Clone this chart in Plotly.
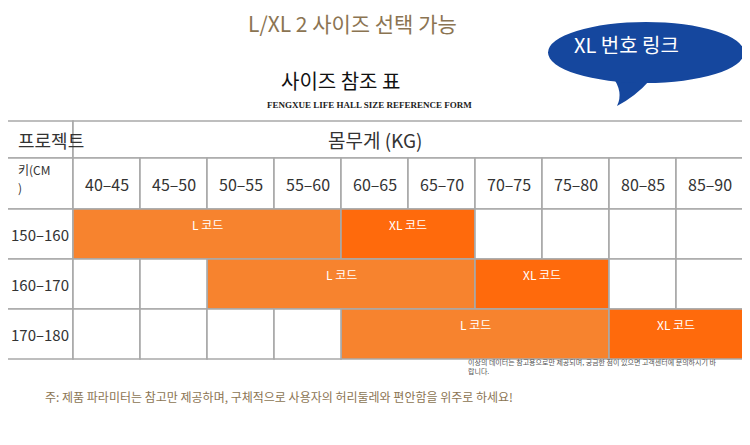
"""
Size reference chart (L / XL) recreated with plotly.
Whole picture is drawn on one invisible pixel-like axis.
"""

import plotly.graph_objects as go

# data
weights = ["40–45", "45–50", "50–55", "55–60", "60–65",
           "65–70", "70–75", "75–80", "80–85", "85–90"]
heights = ["150–160", "160–170", "170–180"]

# size spans per height row: (first weight col, last weight col, size)
size_spans = [
    [(0, 3, "L"), (4, 5, "XL")],
    [(2, 5, "L"), (6, 7, "XL")],
    [(4, 7, "L"), (8, 9, "XL")],
]

title = "L/XL 2 사이즈 선택 가능"
bubble_text = "XL 번호 링크"
table_title = "사이즈 참조 표"
table_subtitle = "FENGXUE LIFE HALL SIZE REFERENCE FORM"
note_small = "이상의 데이터는 참고용으로만 제공되며, 궁금한 점이 있으면 고객센터에 문의하시기 바<br>랍니다."
note_main = "주: 제품 파라미터는 참고만 제공하며, 구체적으로 사용자의 허리둘레와 편안함을 위주로 하세요!"

# geometry (page pixels; the plot div sits 8px in from the page corner)
W, H = 750, 445
OFF = 8
X0, LABEL_W, COL_W = 7, 66, 67.0
Y_TOP, HEAD1_H, HEAD2_H, ROW_H = 121, 37, 51, 50
GRID = "#a9a9a9"
L_COLOR = "#f7832e"
XL_COLOR = "#ff6a0c"
BROWN = "#8b7452"
FONT = "Noto Sans CJK KR"

def col_x(i):
    return X0 + LABEL_W + COL_W * i

x_right = col_x(len(weights))
y_head2 = Y_TOP + HEAD1_H
y_rows = y_head2 + HEAD2_H
y_bottom = y_rows + ROW_H * len(heights)

shapes = []
annotations = []

def rect(x0, y0, x1, y1, fill="white"):
    shapes.append(dict(type="rect", xref="x", yref="y", x0=x0, y0=y0, x1=x1, y1=y1,
                       fillcolor=fill, line=dict(color=GRID, width=1.6), layer="below"))

def text(x, y, s, size, color="#333", xanchor="center", yanchor="middle", family=FONT, **kw):
    annotations.append(dict(x=x, y=y, xref="x", yref="y", text=s, showarrow=False,
                            xanchor=xanchor, yanchor=yanchor,
                            font=dict(family=family, size=size, color=color), **kw))

# header rows
rect(X0, Y_TOP, X0 + LABEL_W, y_head2)
rect(X0 + LABEL_W, Y_TOP, x_right, y_head2)
text(X0 + 9, (Y_TOP + y_head2) / 2, "프로젝트", 18, xanchor="left")
text((X0 + x_right) / 2, (Y_TOP + y_head2) / 2, "몸무게 (KG)", 19)

rect(X0, y_head2, X0 + LABEL_W, y_rows)
text(X0 + 10, y_head2 + 11, "키(CM", 12, xanchor="left", borderpad=0)
text(X0 + 10, y_head2 + 29, ")", 12, xanchor="left", borderpad=0)
for i, w in enumerate(weights):
    rect(col_x(i), y_head2, col_x(i + 1), y_rows)
    text((col_x(i) + col_x(i + 1)) / 2, (y_head2 + y_rows) / 2, w, 16)

# body rows
for r, h in enumerate(heights):
    ry0 = y_rows + ROW_H * r
    ry1 = ry0 + ROW_H
    rect(X0, ry0, X0 + LABEL_W, ry1)
    text(X0 + LABEL_W / 2, (ry0 + ry1) / 2, h, 15)
    covered = set()
    for c0, c1, size in size_spans[r]:
        covered.update(range(c0, c1 + 1))
        rect(col_x(c0), ry0, col_x(c1 + 1), ry1,
             fill=L_COLOR if size == "L" else XL_COLOR)
        text((col_x(c0) + col_x(c1 + 1)) / 2, ry0 + 15, size + " 코드", 12, color="white")
    for i in range(len(weights)):
        if i not in covered:
            rect(col_x(i), ry0, col_x(i + 1), ry1)

# titles and notes
text(352, 23, title, 21, color=BROWN)
text(340, 80, table_title, 20, color="#111")
text(369, 105, "<b>" + table_subtitle + "</b>", 9, color="#222", family="Liberation Serif")
text(466, 366, note_small, 7, color="#555", xanchor="left", align="left")
text(43, 396, note_main, 12, color=BROWN, xanchor="left")

# speech bubble
BLUE = "#15479e"
shapes.append(dict(type="path", xref="x", yref="y", fillcolor=BLUE, line=dict(width=0),
                   path="M 612 76 Q 624 92 617 106 Q 636 96 650 80 Z"))
shapes.append(dict(type="circle", xref="x", yref="y", x0=548, y0=22, x1=744, y1=83,
                   fillcolor=BLUE, line=dict(width=0)))
text(626, 44, bubble_text, 20, color="white")

# figure is shrunk by the page offset so it fits the window without scrolling
fig = go.Figure()
fig.add_trace(go.Scatter(x=[OFF, W], y=[OFF, H], mode="markers",
                         marker=dict(opacity=0), hoverinfo="skip", showlegend=False))
fig.update_layout(
    width=W - OFF, height=H - OFF,
    margin=dict(l=0, r=0, t=0, b=0),
    paper_bgcolor="white", plot_bgcolor="white",
    xaxis=dict(range=[OFF, W], visible=False, fixedrange=True),
    yaxis=dict(range=[H, OFF], visible=False, fixedrange=True),
    shapes=shapes,
    annotations=annotations,
    font=dict(family=FONT),
)

fig.write_html("out.html")
